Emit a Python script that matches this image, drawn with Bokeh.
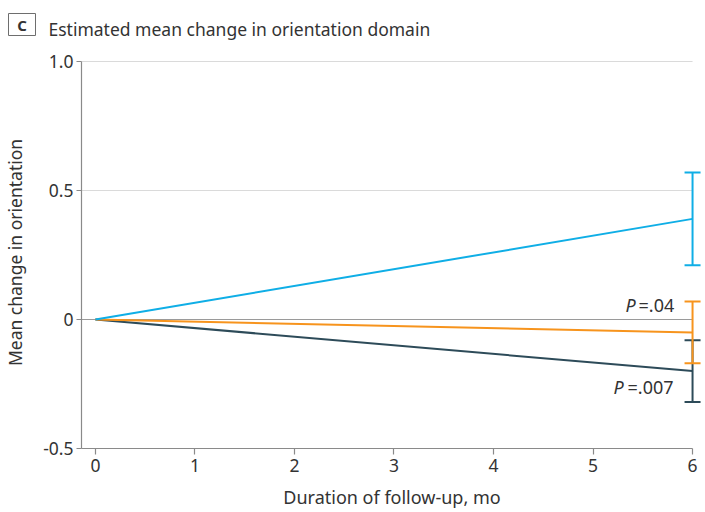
from bokeh.plotting import figure
from bokeh.layouts import column
from bokeh.models import (Range1d, Label, Whisker, ColumnDataSource, TeeHead,
                          FixedTicker)
from bokeh.core.properties import value
from bokeh.embed import file_html
from bokeh.resources import INLINE

# Estimated mean change in orientation score, baseline to 6 months
months = [0, 6]
mean_blue = [0.0, 0.39]
ci_blue = [0.21, 0.57]
mean_orange = [0.0, -0.05]
ci_orange = [-0.17, 0.07]
mean_dark = [0.0, -0.20]
ci_dark = [-0.32, -0.08]

x_ticks = [0, 1, 2, 3, 4, 5, 6]
y_ticks = [-0.5, 0, 0.5, 1.0]
y_tick_labels = {-0.5: "-0.5", 0: "0", 0.5: "0.5", 1.0: "1.0"}
p_text_orange = "=.04"
p_text_dark = "=.007"
panel_letter = "C"
heading = "Estimated mean change in orientation domain"

BLUE = "#0FAEE6"
ORANGE = "#F7941D"
DARK = "#2D4B59"
FONT = "Noto Sans"
TEXT = "#333333"
AXIS = "#8A8A8A"

W = 705
HEAD_H = 45
MAIN_H = 512 - HEAD_H

# ---- heading strip: panel letter in a box, then the heading text ----
head = figure(width=W, height=HEAD_H, output_backend="svg", toolbar_location=None,
              x_range=Range1d(0, W), y_range=Range1d(HEAD_H, 0),
              x_axis_location=None, y_axis_location=None, frame_align=False,
              min_border=0, outline_line_color=None, background_fill_color="white",
              border_fill_color="white")
head.grid.visible = False
head.quad(left=[8], right=[35], top=[13], bottom=[35], fill_color="white",
          line_color="#6E6E6E", line_width=1)
head.text(x=[21.5], y=[24.5], text=[panel_letter], text_font=value(FONT),
          text_font_size="15px", text_font_style="bold", text_color=TEXT,
          text_align="center", text_baseline="middle")
head.text(x=[48], y=[28], text=[heading], text_font=value(FONT),
          text_font_size="17.5px", text_color=TEXT, text_baseline="alphabetic")

# ---- main chart ----
x_start, x_end = -0.14, 6.10
y_start, y_end = -0.5, 1.0194

p = figure(width=W, height=MAIN_H, output_backend="svg", toolbar_location=None,
           x_range=Range1d(x_start, x_end), y_range=Range1d(y_start, y_end),
           frame_align=False,
           min_border_left=80, min_border_right=3, min_border_top=11,
           min_border_bottom=64, outline_line_color=None,
           background_fill_color="white", border_fill_color="white")

p.xgrid.visible = False
p.ygrid.visible = False

# reference lines spanning the axis extent
for yv, col in [(0.5, "#DADADA"), (1.0, "#DADADA"), (0.0, "#9A9A9A")]:
    p.segment(x0=[x_start], y0=[yv], x1=[months[-1]], y1=[yv],
              line_color=col, line_width=1.2)

# axes
for ax in (p.xaxis[0], p.yaxis[0]):
    ax.axis_line_color = AXIS
    ax.axis_line_width = 1.2
    ax.major_tick_line_color = AXIS
    ax.major_tick_line_width = 1.2
    ax.major_tick_in = 0
    ax.minor_tick_line_color = None
    ax.major_label_text_font = FONT
    ax.major_label_text_font_size = "17.5px"
    ax.major_label_text_color = TEXT
    ax.axis_label_text_font = FONT
    ax.axis_label_text_font_style = "normal"
    ax.axis_label_text_color = TEXT

p.xaxis[0].ticker = FixedTicker(ticks=x_ticks)
p.xaxis[0].bounds = (x_start, months[-1])
p.xaxis[0].major_tick_out = 6
p.xaxis[0].major_label_standoff = 4
p.xaxis[0].axis_label = "Duration of follow-up, mo"
p.xaxis[0].axis_label_text_font_size = "18px"
p.xaxis[0].axis_label_standoff = 10

p.yaxis[0].ticker = FixedTicker(ticks=y_ticks)
p.yaxis[0].major_label_overrides = y_tick_labels
p.yaxis[0].bounds = (y_ticks[0], y_ticks[-1])
p.yaxis[0].major_tick_out = 5
p.yaxis[0].major_label_standoff = 3
p.yaxis[0].axis_label = "Mean change in orientation"
p.yaxis[0].axis_label_text_font_size = "17.5px"
p.yaxis[0].axis_label_standoff = 13

# confidence intervals at 6 months
def add_ci(ci, color):
    src = ColumnDataSource(dict(base=[months[-1]], lower=[ci[0]], upper=[ci[1]]))
    w = Whisker(source=src, base="base", lower="lower", upper="upper",
                dimension="height", line_color=color, line_width=2,
                upper_head=TeeHead(size=16, line_color=color, line_width=2),
                lower_head=TeeHead(size=16, line_color=color, line_width=2),
                level="glyph")
    p.add_layout(w)

add_ci(ci_dark, DARK)
add_ci(ci_orange, ORANGE)
add_ci(ci_blue, BLUE)

# mean trajectories
p.line(months, mean_dark, line_color=DARK, line_width=2)
p.line(months, mean_orange, line_color=ORANGE, line_width=2)
p.line(months, mean_blue, line_color=BLUE, line_width=2)

# P value annotations
def add_p(y, dy, rest, dx, gap):
    p.add_layout(Label(x=months[-1], y=y, x_offset=dx, y_offset=dy, text="P",
                       text_font=FONT, text_font_size="18px",
                       text_font_style="italic", text_color=TEXT,
                       text_baseline="middle"))
    p.add_layout(Label(x=months[-1], y=y, x_offset=dx + gap, y_offset=dy,
                       text=rest, text_font=FONT, text_font_size="18px",
                       text_color=TEXT, text_baseline="middle"))

add_p(0.0, 15, p_text_orange, -67, 13)
add_p(mean_dark[-1], -16, p_text_dark, -79, 14)

layout = column(head, p, spacing=0)
open("out.html", "w").write(file_html(layout, INLINE))
